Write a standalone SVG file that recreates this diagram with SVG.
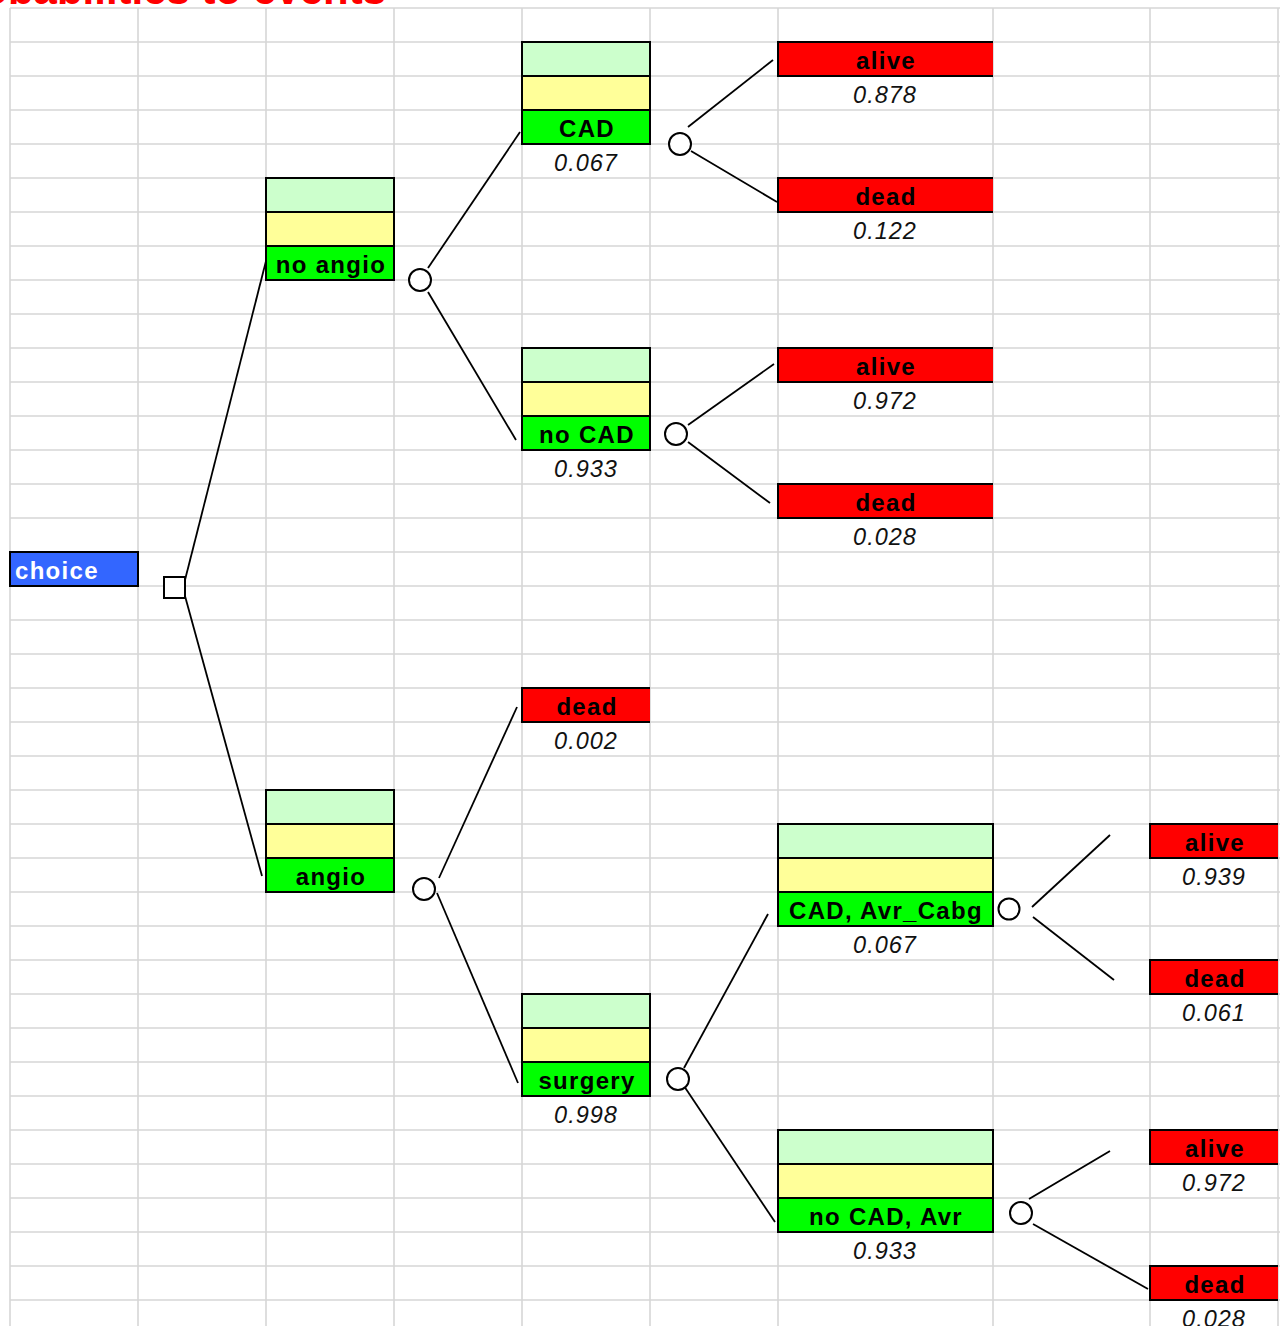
<svg xmlns="http://www.w3.org/2000/svg" width="1287" height="1326" viewBox="0 0 1287 1326">
  <style>
    .grid { stroke: #d6d6d6; stroke-width: 1.6; fill: none; }
    .edge { stroke: #000; stroke-width: 1.8; fill: none; }
    .box { stroke: #000; stroke-width: 2; }
    .lg { fill: #ccffcc; }
    .yl { fill: #ffff99; }
    .gr { fill: #00ff00; }
    .rd { fill: #ff0000; }
    .chance { fill: #fff; stroke: #000; stroke-width: 2; }
    .lbl { font-family: "Liberation Sans", Arial, sans-serif; font-weight: bold; font-size: 24px; letter-spacing: 1.3px; fill: #000; text-anchor: middle; }
    .prob { font-family: "Liberation Sans", Arial, sans-serif; font-style: italic; font-size: 23.5px; letter-spacing: 1px; fill: #111; text-anchor: middle; }
    .title { font-family: "Liberation Sans", Arial, sans-serif; font-weight: bold; font-size: 42px; fill: #ff0000; text-anchor: end; }
  </style>
  <defs>
    <!-- three-row decision/chance node body, 128 wide -->
    <g id="stack128">
      <rect class="lg" x="0" y="0" width="128" height="34"/>
      <rect class="yl" x="0" y="34" width="128" height="34"/>
      <rect class="gr" x="0" y="68" width="128" height="34"/>
      <path class="box" fill="none" d="M0,0H128V102H0Z M0,34H128 M0,68H128"/>
    </g>
    <!-- three-row node body, 215 wide -->
    <g id="stack215">
      <rect class="lg" x="0" y="0" width="215" height="34"/>
      <rect class="yl" x="0" y="34" width="215" height="34"/>
      <rect class="gr" x="0" y="68" width="215" height="34"/>
      <path class="box" fill="none" d="M0,0H215V102H0Z M0,34H215 M0,68H215"/>
    </g>
    <!-- terminal outcome cells -->
    <g id="term215">
      <rect class="rd" x="0" y="0" width="215" height="34"/>
      <path class="box" fill="none" d="M215,0H0V34H215"/>
    </g>
    <g id="term128">
      <rect class="rd" x="0" y="0" width="128" height="34"/>
      <path class="box" fill="none" d="M128,0H0V34H128"/>
    </g>
  </defs>

  <rect x="0" y="0" width="1287" height="1326" fill="#fff"/>

  <!-- spreadsheet grid -->
  <g id="grid">
    <path class="grid" d="M10,8V1326 M138,8V1326 M266,8V1326 M394,8V1326 M522,8V1326 M650,8V1326 M778,8V1326 M993,8V1326 M1150,8V1326 M1278,8V1326"/>
    <path class="grid" d="M10,8H1280 M10,42H1280 M10,76H1280 M10,110H1280 M10,144H1280 M10,178H1280 M10,212H1280 M10,246H1280 M10,280H1280 M10,314H1280 M10,348H1280 M10,382H1280 M10,416H1280 M10,450H1280 M10,484H1280 M10,518H1280 M10,552H1280 M10,586H1280 M10,620H1280 M10,654H1280 M10,688H1280 M10,722H1280 M10,756H1280 M10,790H1280 M10,824H1280 M10,858H1280 M10,892H1280 M10,926H1280 M10,960H1280 M10,994H1280 M10,1028H1280 M10,1062H1280 M10,1096H1280 M10,1130H1280 M10,1164H1280 M10,1198H1280 M10,1232H1280 M10,1266H1280 M10,1300H1280"/>
  </g>

  <text class="title" x="386" y="4">Assign probabilities to events</text>

  <!-- branches -->
  <g id="connectors">
    <line class="edge" x1="185" y1="580" x2="266" y2="261"/>
    <line class="edge" x1="185" y1="596" x2="262" y2="876"/>
    <line class="edge" x1="428" y1="268" x2="520" y2="132"/>
    <line class="edge" x1="428" y1="292" x2="516" y2="440"/>
    <line class="edge" x1="688" y1="127" x2="773" y2="60"/>
    <line class="edge" x1="691" y1="151" x2="777" y2="202"/>
    <line class="edge" x1="688" y1="425" x2="774" y2="364"/>
    <line class="edge" x1="688" y1="442" x2="770" y2="503"/>
    <line class="edge" x1="439" y1="878" x2="517" y2="707"/>
    <line class="edge" x1="437" y1="893" x2="518" y2="1083"/>
    <line class="edge" x1="684" y1="1068" x2="768" y2="914"/>
    <line class="edge" x1="684" y1="1086" x2="775" y2="1222"/>
    <line class="edge" x1="1032" y1="907" x2="1110" y2="835"/>
    <line class="edge" x1="1033" y1="917" x2="1114" y2="980"/>
    <line class="edge" x1="1029" y1="1199" x2="1110" y2="1151"/>
    <line class="edge" x1="1033" y1="1224" x2="1148" y2="1289"/>
  </g>

  <!-- root decision -->
  <g id="choice">
    <rect x="10" y="552" width="128" height="34" fill="#3366ff" stroke="#000" stroke-width="2"/>
    <text x="15" y="579" font-family="Liberation Sans, Arial, sans-serif" font-weight="bold" font-size="24" letter-spacing="1.3" fill="#fff">choice</text>
  </g>
  <g id="decision-square">
    <rect x="164" y="577" width="21" height="21" fill="#fff" stroke="#000" stroke-width="2"/>
  </g>

  <!-- no angio branch -->
  <g id="no-angio">
    <use href="#stack128" x="266" y="178"/>
    <text class="lbl" x="331" y="273">no angio</text>
  </g>
  <g id="chance-no-angio"><circle class="chance" cx="420" cy="280" r="11"/></g>

  <g id="cad">
    <use href="#stack128" x="522" y="42"/>
    <text class="lbl" x="587" y="137">CAD</text>
    <text class="prob" x="586" y="171">0.067</text>
  </g>
  <g id="chance-cad"><circle class="chance" cx="680" cy="144" r="11"/></g>

  <g id="cad-alive">
    <use href="#term215" x="778" y="42"/>
    <text class="lbl" x="886" y="69">alive</text>
    <text class="prob" x="885" y="103">0.878</text>
  </g>
  <g id="cad-dead">
    <use href="#term215" x="778" y="178"/>
    <text class="lbl" x="886" y="205">dead</text>
    <text class="prob" x="885" y="239">0.122</text>
  </g>

  <g id="no-cad">
    <use href="#stack128" x="522" y="348"/>
    <text class="lbl" x="587" y="443">no CAD</text>
    <text class="prob" x="586" y="477">0.933</text>
  </g>
  <g id="chance-no-cad"><circle class="chance" cx="676" cy="434" r="11"/></g>

  <g id="no-cad-alive">
    <use href="#term215" x="778" y="348"/>
    <text class="lbl" x="886" y="375">alive</text>
    <text class="prob" x="885" y="409">0.972</text>
  </g>
  <g id="no-cad-dead">
    <use href="#term215" x="778" y="484"/>
    <text class="lbl" x="886" y="511">dead</text>
    <text class="prob" x="885" y="545">0.028</text>
  </g>

  <!-- angio branch -->
  <g id="angio">
    <use href="#stack128" x="266" y="790"/>
    <text class="lbl" x="331" y="885">angio</text>
  </g>
  <g id="chance-angio"><circle class="chance" cx="424" cy="889" r="11"/></g>

  <g id="angio-dead">
    <use href="#term128" x="522" y="688"/>
    <text class="lbl" x="587" y="715">dead</text>
    <text class="prob" x="586" y="749">0.002</text>
  </g>

  <g id="surgery">
    <use href="#stack128" x="522" y="994"/>
    <text class="lbl" x="587" y="1089">surgery</text>
    <text class="prob" x="586" y="1123">0.998</text>
  </g>
  <g id="chance-surgery"><circle class="chance" cx="678" cy="1079" r="11"/></g>

  <g id="cad-avr-cabg">
    <use href="#stack215" x="778" y="824"/>
    <text class="lbl" x="886" y="919">CAD, Avr_Cabg</text>
    <text class="prob" x="885" y="953">0.067</text>
  </g>
  <g id="chance-cad-avr-cabg"><circle class="chance" cx="1009" cy="909" r="10.5"/></g>

  <g id="cabg-alive">
    <use href="#term128" x="1150" y="824"/>
    <text class="lbl" x="1215" y="851">alive</text>
    <text class="prob" x="1214" y="885">0.939</text>
  </g>
  <g id="cabg-dead">
    <use href="#term128" x="1150" y="960"/>
    <text class="lbl" x="1215" y="987">dead</text>
    <text class="prob" x="1214" y="1021">0.061</text>
  </g>

  <g id="no-cad-avr">
    <use href="#stack215" x="778" y="1130"/>
    <text class="lbl" x="886" y="1225">no CAD, Avr</text>
    <text class="prob" x="885" y="1259">0.933</text>
  </g>
  <g id="chance-no-cad-avr"><circle class="chance" cx="1021" cy="1213" r="11"/></g>

  <g id="avr-alive">
    <use href="#term128" x="1150" y="1130"/>
    <text class="lbl" x="1215" y="1157">alive</text>
    <text class="prob" x="1214" y="1191">0.972</text>
  </g>
  <g id="avr-dead">
    <use href="#term128" x="1150" y="1266"/>
    <text class="lbl" x="1215" y="1293">dead</text>
    <text class="prob" x="1214" y="1327">0.028</text>
  </g>
</svg>
